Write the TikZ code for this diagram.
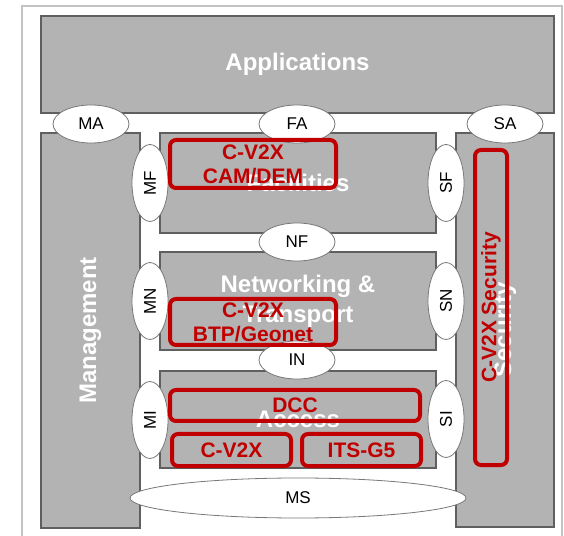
\documentclass[tikz,border=0pt]{standalone}
\usepackage{fontspec}
\setmainfont{Liberation Sans}
\usetikzlibrary{positioning}
\usetikzlibrary{shapes.geometric}

\definecolor{layergray}{RGB}{179,179,179}
\definecolor{edgegray}{RGB}{95,95,95}
\definecolor{sapgray}{RGB}{120,120,120}
\definecolor{framegray}{RGB}{195,195,195}
\definecolor{cvred}{RGB}{192,0,0}

\begin{document}
\begin{tikzpicture}[x=1pt,y=1pt,on grid,
   layer/.style={draw=edgegray,line width=1.2pt,fill=layergray,text=white,
      font=\fontsize{24}{30}\selectfont\bfseries,inner sep=0pt,align=center},
   sap/.style={ellipse,draw=sapgray,fill=white,line width=0.8pt,inner sep=0pt,
      font=\fontsize{17}{20}\selectfont},
   hsap/.style={sap,minimum width=76pt,minimum height=38pt},
   vsap/.style={sap,rotate=90,minimum width=77pt,minimum height=36pt},
   cvbox/.style={draw=cvred,line width=4pt,rounded corners=6pt,text=cvred,
      font=\fontsize{21}{24}\selectfont\bfseries,inner sep=0pt,align=center}]

   \useasboundingbox (0,0) rectangle (564,535);
   \draw[framegray,line width=1.5pt] (22,-5) |- (562,529) -- (562,-5);

   % layers
   \node[layer,minimum width=513pt,minimum height=97pt] (app) at (297.5,470.5) {Applications};
   \node[layer,rotate=90,minimum width=395pt,minimum height=99pt] (mgmt) at (90.5,204.5) {Management};
   \node[layer,rotate=90,minimum width=394pt,minimum height=98pt] (sec) at (505,205) {Security};
   \node[layer,minimum width=276pt,minimum height=100pt] (fac) at (298,352) {Facilities};
   \node[layer,minimum width=276pt,minimum height=98pt] (net) at (298,234) {Networking \&\\Transport};
   \node[layer,minimum width=276pt,minimum height=97pt] (acc) at (298,115.5) {Access};

   % interfaces
   \node[hsap] (ma) at (91,411) {MA};
   \node[hsap] (fa) at (297,411) {FA};
   \node[hsap] (sa) at (505,411) {SA};
   \node[hsap] (nf) [below=118pt of fa] {NF};
   \node[hsap] (in) [below=118pt of nf] {IN};
   \node[sap,minimum width=336pt,minimum height=40pt] (ms) at (298,37) {MS};
   \node[vsap] (mf) at (150,352) {MF};
   \node[vsap] (mn) at (150,234) {MN};
   \node[vsap] (mi) at (150,115) {MI};
   \node[vsap] (sf) at (446,352) {SF};
   \node[vsap] (sn) at (446,234) {SN};
   \node[vsap] (si) at (446,116) {SI};

   % C-V2X parts
   \node[cvbox,minimum width=166pt,minimum height=48pt] (camdem) at (253,371) {C-V2X\\CAM/DEM};
   \node[cvbox,minimum width=166pt,minimum height=46pt] (btp) at (253,213) {C-V2X\\BTP/Geonet};
   \node[cvbox,minimum width=250pt,minimum height=31pt] (dcc) at (295,129.5) {DCC};
   \node[cvbox,minimum width=119pt,minimum height=32pt] (cv2x) at (231.5,85) {C-V2X};
   \node[cvbox,minimum width=119pt,minimum height=32pt] (itsg5) [right=130pt of cv2x] {ITS-G5};
   \node[cvbox,rotate=90,minimum width=315pt,minimum height=32pt] (cvsec) at (491,227.5) {C-V2X Security};
\end{tikzpicture}
\end{document}
